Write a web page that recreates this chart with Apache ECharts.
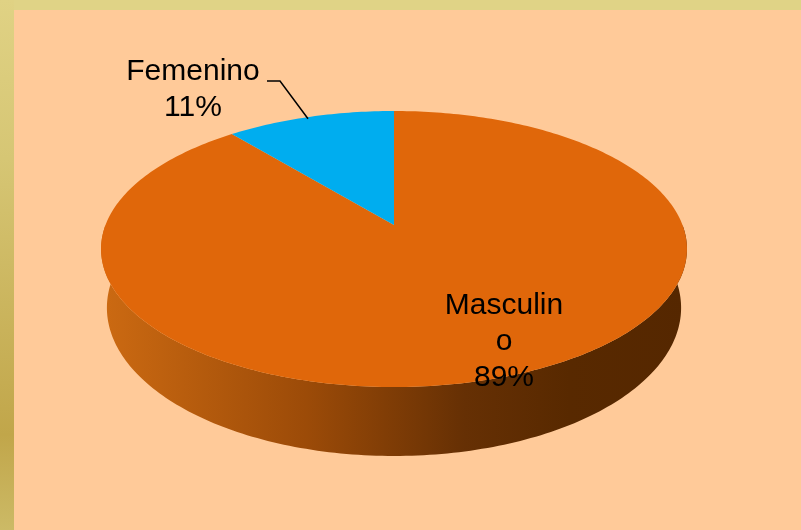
<!DOCTYPE html>
<html>
<head>
<meta charset="utf-8">
<script src="https://cdn.jsdelivr.net/npm/echarts@6/dist/echarts.min.js"></script>
<style>
  html, body { margin: 0; padding: 0; background: #FFCA99; }
  #main { width: 801px; height: 530px; }
</style>
</head>
<body>
<div id="main"></div>
<script>
// datos
var categories = ['Masculino', 'Femenino'];
var shares = [89, 11];
var sliceColors = ['#E0670A', '#00ADEF'];

// geometria del pastel 3D (perspectiva simple)
var cx = 394, cy = 225, R = 288.5, depthA = 94.7, persp = -0.1739, wallH = 57;
// posiciones de etiquetas
var labelPos = [[504, 342], [193, 90]];
var labelWidth = [128, 220];
var leaderElbow = [null, [[280, 81], [267, 81]]];

var total = shares.reduce(function (s, v) { return s + v; }, 0);
var starts = [];
var acc = 0;
shares.forEach(function (v) { starts.push(acc / total * 360); acc += v; });

function proj(deg, r, bottom) {
  var t = deg * Math.PI / 180;
  var u = Math.sin(t) * r, v = -Math.cos(t) * r;
  var den = 1 + persp * v;
  var sx = bottom ? 0.98 : 1;
  return [cx + R * sx * u / den, (depthA * v + cy) / den + (bottom ? wallH / den : 0)];
}

var wallGradient = {
  type: 'linear', x: 101, y: 0, x2: 687, y2: 0, global: true,
  colorStops: [
    { offset: 0, color: '#CC6A12' },
    { offset: 0.35, color: '#9C4B08' },
    { offset: 0.62, color: '#663004' },
    { offset: 0.8, color: '#582900' },
    { offset: 1, color: '#552700' }
  ]
};

function renderItem(params, api) {
  var i = params.dataIndex;
  var a1 = starts[i];
  var a2 = a1 + api.value(0) / total * 360;
  var children = [];

  // pared lateral (solo la parte frontal)
  var w1 = Math.max(a1, 90), w2 = Math.min(a2, 270);
  if (w2 > w1) {
    var wp = [];
    for (var d = w1; d <= w2; d += 1) wp.push(proj(d, 1, false));
    wp.push(proj(w2, 1, false));
    for (var d2 = w2; d2 >= w1; d2 -= 1) wp.push(proj(d2, 1, true));
    wp.push(proj(w1, 1, true));
    children.push({ type: 'polygon', z2: 1, shape: { points: wp }, style: { fill: wallGradient } });
  }

  // cara superior
  var tp = [proj(0, 0, false)];
  for (var d3 = a1; d3 < a2; d3 += 1) tp.push(proj(d3, 1, false));
  tp.push(proj(a2, 1, false));
  children.push({ type: 'polygon', z2: 5, shape: { points: tp }, style: { fill: sliceColors[i] } });

  // etiqueta
  var pct = Math.round(api.value(0) / total * 100);
  children.push({
    type: 'text', z2: 20,
    style: {
      text: categories[i] + '\n' + pct + '%',
      x: labelPos[i][0], y: labelPos[i][1],
      fill: '#000', font: '30px "Liberation Sans", Arial, sans-serif',
      align: 'center', verticalAlign: 'middle',
      textAlign: 'center', textVerticalAlign: 'middle',
      lineHeight: 36, width: labelWidth[i], overflow: 'breakAll'
    }
  });

  // linea guia
  if (leaderElbow[i]) {
    var mid = proj((a1 + a2) / 2, 1, false);
    children.push({
      type: 'polyline', z2: 20,
      shape: { points: [[mid[0] - 2, mid[1] + 2]].concat(leaderElbow[i]) },
      style: { stroke: '#000', lineWidth: 1.5, fill: null }
    });
  }
  return { type: 'group', children: children };
}

var chart = echarts.init(document.getElementById('main'));
chart.setOption({
  backgroundColor: '#FFCA99',
  animation: false,
  graphic: [
    { type: 'rect', shape: { x: 0, y: 0, width: 801, height: 10 }, style: { fill: '#E0D386' } },
    {
      type: 'rect', shape: { x: 0, y: 0, width: 14, height: 530 },
      style: {
        fill: {
          type: 'linear', x: 0, y: 0, x2: 0, y2: 1,
          colorStops: [
            { offset: 0, color: '#E0D284' },
            { offset: 0.3, color: '#D6C674' },
            { offset: 0.82, color: '#C1A64A' },
            { offset: 1, color: '#CCBA66' }
          ]
        }
      }
    }
  ],
  series: [{
    type: 'custom',
    coordinateSystem: 'none',
    renderItem: renderItem,
    data: shares.map(function (v, i) { return { name: categories[i], value: v }; })
  }]
});
</script>
</body>
</html>
